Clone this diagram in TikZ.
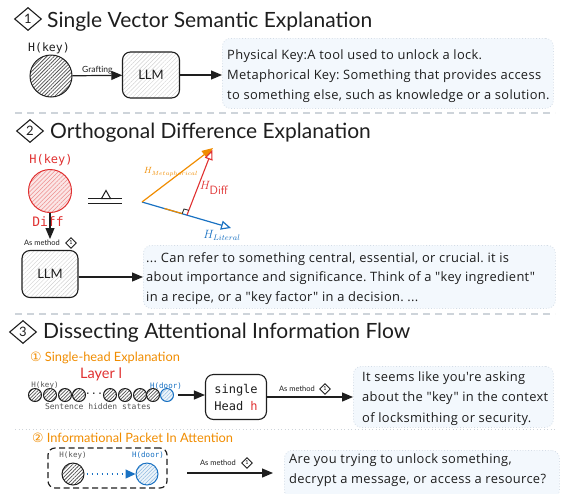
\documentclass[tikz,border=0pt]{standalone}
\usepackage{fontspec}
\setmainfont{Lato}[Ligatures=TeXOff]
\setmonofont{DejaVu Sans Mono}
\newfontfamily\symf{DejaVu Sans}
\newfontfamily\bodyf{Open Sans}[Ligatures=TeXOff, LetterSpace=2.5]
\usetikzlibrary{arrows.meta,patterns.meta,shapes.geometric,calc}
\frenchspacing
\definecolor{ink}{HTML}{1E1E1E}
\definecolor{xorange}{HTML}{F08C00}
\definecolor{xred}{HTML}{E03131}
\definecolor{xblue}{HTML}{1971C2}
\definecolor{boxfill}{HTML}{F3F8FD}
\definecolor{boxline}{HTML}{D3DCE6}
\definecolor{sepc}{HTML}{CED4DA}
\definecolor{graytxt}{HTML}{555555}
\newcommand\ftitle{\fontsize{21}{22}\selectfont}
\newcommand\fbody{\bodyf\fontsize{12.9}{20}\selectfont}
\newcommand\fsmall{\fontsize{8.5}{9}\selectfont}
\newcommand\ftiny{\fontsize{7.5}{8}\selectfont}
\newcommand\fmono{\ttfamily\fontsize{11.5}{12}\selectfont}
\newcommand\fmonotiny{\ttfamily\fontsize{7.5}{8}\selectfont}
\newcommand\btext[1]{\parbox[t]{400pt}{\raggedright #1}}
\tikzset{
  arr/.style={draw=ink, line width=1.2pt, -{Triangle[length=11pt,width=9pt]}},
  tdiamond/.style={diamond, draw=ink, line width=1.1pt, minimum width=27pt, minimum height=23pt, inner sep=0pt, font=\fontsize{13}{13}\selectfont, text=ink},
  mdiamond/.style={diamond, draw=ink, line width=0.9pt, minimum width=11pt, minimum height=11pt, inner sep=0pt, font=\fontsize{5.5}{5.5}\selectfont},
  ttl/.style={anchor=base west, font=\ftitle, text=ink, inner sep=0pt},
  subttl/.style={anchor=west, font=\fontsize{12.8}{13}\selectfont, text=xorange, inner sep=0pt},
  tbox/.style={anchor=north west, fill=boxfill, draw=boxline, dotted, line width=0.8pt, rounded corners=8pt, inner sep=0pt},
  btxt/.style={anchor=base west, inner sep=0pt, text=ink},
  darkball/.style={circle, draw=ink, line width=1pt, preaction={fill=white}, pattern={Lines[angle=45,distance=2.6pt,line width=0.75pt]}, pattern color=ink!75, inner sep=0pt},
  redball/.style={circle, draw=xred, line width=1pt, preaction={fill=xred!12}, pattern={Lines[angle=45,distance=3pt,line width=0.5pt]}, pattern color=xred!55, inner sep=0pt},
  blueball/.style={circle, draw=xblue, line width=1pt, preaction={fill=xblue!8}, pattern={Lines[angle=45,distance=2.6pt,line width=0.5pt]}, pattern color=xblue!50, inner sep=0pt},
  llmbox/.style={rectangle, rounded corners=8pt, draw=ink, line width=1.1pt, preaction={fill=white}, pattern={Lines[angle=45,distance=3pt,line width=0.4pt]}, pattern color=black!18, minimum width=57pt, minimum height=46pt, font=\fontsize{13}{13}\selectfont, text=ink},
  headbox/.style={rectangle, rounded corners=8pt, draw=ink, line width=1.1pt, fill=white, minimum width=61pt, minimum height=45pt, align=center, font=\ttfamily\fontsize{12}{17}\selectfont, text=ink},
  packet/.style={rectangle, rounded corners=7pt, draw=ink, line width=1.2pt, dash pattern=on 6pt off 3.5pt, minimum width=119pt, minimum height=40pt},
  sepline/.style={draw=sepc, line width=1.2pt, dash pattern=on 7pt off 5pt},
  sepdot/.style={draw=sepc, line width=1pt, dash pattern=on 1pt off 2.5pt},
  lab/.style={font=\fsmall, text=ink, inner sep=1pt},
  mlab/.style={font=\ftiny, text=ink, inner sep=0pt},
}
\begin{document}
\begin{tikzpicture}[x=1pt,y=-1pt]
\useasboundingbox (0,0) rectangle (561,493);
% ---------- section 1
\node[tdiamond] (d1) at (28,19) {1};
\node[ttl] (t1) at (47,27) {Single Vector Semantic Explanation};
\node[font=\fmono, text=ink] (hk1) at (49,48) {H(key)};
\node[darkball, minimum size=42pt] (c1) at (51,76) {};
\node[llmbox] (llm1) at (151,75) {LLM};
\draw[arr] (c1) -- node[lab, above] (gr) {Grafting} (llm1);
\node[tbox, minimum width=331pt, minimum height=70pt] (b1) at (222,38) {};
\node[btxt, font=\fbody] (x1) at (227,59)
  {\btext{Physical Key:A tool used to unlock a lock.\\Metaphorical Key: Something that provides access\\to something else, such as knowledge or a solution.}};
\draw[arr] (llm1.east) -- (llm1.east -| b1.west);
\draw[sepline] (15,113) -- (555,113);
% ---------- section 2
\node[tdiamond] (d2) at (30,131) {2};
\node[ttl] (t2) at (50,138) {Orthogonal Difference Explanation};
\node[font=\ttfamily\fontsize{12}{12}\selectfont, text=xred] (hk2) at (51,160) {H(key)};
\node[redball, minimum size=43pt] (c2) at (50,191) {};
\node[font=\ttfamily\fontsize{13}{13}\selectfont, text=xred] (diff) at (48,222) {Diff};
\coordinate (a2) at (50,239);
\draw[arr] (c2) -- (a2);
\node[mlab] (am2) at (42,243) {As method};
\node[mdiamond] (md2) at (71,243) {1};
\node[llmbox, minimum width=56pt, minimum height=47pt] (llm2) at (50,274) {LLM};
\node[tbox, minimum width=412pt, minimum height=63pt] (b2) at (143,245) {};
\node[btxt, font=\bodyf\fontsize{12.9}{19.5}\selectfont] (x2) at (146,262)
  {\btext{... Can refer to something central, essential, or crucial. it is\\about importance and significance. Think of a "key ingredient"\\in a recipe, or a "key factor" in a decision. ...}};
\coordinate (e2) at ($(llm2.east)+(0,3)$);
\draw[arr] (e2) -- (e2 -| b2.west);
% triangleq symbol
\draw[ink, line width=1pt] (88,198.5) -- (122,198.5) (88,203) -- (122,203);
\draw[ink, line width=1pt] (101.5,198.5) -- (106,190.5) -- (110.5,198.5) -- cycle;
% vectors
\coordinate (O) at (142,202);
\coordinate (M) at (213,148);
\coordinate (L) at (231,228);
\coordinate (F) at (187,215);
\draw[xblue, line width=1.2pt, -{Triangle[open, length=10pt, width=9pt, fill=white]}] (O) -- (L);
\draw[xorange, line width=1.2pt] ($(O)!0.5!(F)$) -- ($(O)!0.9!(F)$);
\draw[xorange, line width=1.2pt, -{Triangle[length=11pt, width=9pt]}] (O) -- (M);
\draw[xred, line width=1.1pt, -{Triangle[open, length=10pt, width=8pt, fill=white]}] (F) -- ($(M)!2pt!(F)$);
\draw[ink, line width=0.8pt] ($(F)!5pt!(O)$) -- ($($(F)!5pt!(O)$)+($(F)!5pt!(M)$)-(F)$) -- ($(F)!5pt!(M)$);
\node[text=xorange, font=\fontsize{9}{9}\selectfont] (lm) at (171,172) {$H_{Metaphorical}$};
\node[text=xred, font=\fontsize{12}{12}\selectfont] (ld) at (214,188) {$H_{\textsf{Diff}}$};
\node[text=xblue, font=\fontsize{12}{12}\selectfont] (ll) at (222,235) {$H_{Literal}$};
\draw[sepline] (15,314) -- (555,314);
% ---------- section 3
\node[tdiamond] (d3) at (23,332) {3};
\node[ttl] (t3) at (43,338) {Dissecting Attentional Information Flow};
\node[subttl] (s1) at (30,358) {{\symf ①}\ Single-head Explanation};
\node[text=xred, font=\fontsize{14.5}{14.5}\selectfont] (ly) at (101,374) {Layer l};
\foreach \i/\xx in {1/35,2/50,3/65,4/79,5/110,6/125,7/140,8/153}{
  \node[darkball, minimum size=13pt, pattern={Lines[angle=45,distance=2.4pt,line width=0.7pt]}] (h\i) at (\xx,395) {};
}
\node[blueball, minimum size=13pt] (hb) at (167,395) {};
\node[font=\ttfamily\fontsize{10}{10}\selectfont, text=ink] (dots) at (94,394) {...};
\node[font=\fmonotiny, text=graytxt] (hk3) at (45,385) {H(key)};
\node[font=\fmonotiny, text=xblue] (hd3) at (166,386) {H(door)};
\node[font=\ttfamily\fontsize{8}{8}\selectfont, text=graytxt] (shs) at (98,407) {Sentence hidden states};
\node[headbox] (head) at (236,397) {single\\Head \textcolor{xred}{h}};
\draw[arr, shorten <=4pt] (hb.east) -- (hb.east -| head.west);
\node[tbox, minimum width=200pt, minimum height=61pt] (b3) at (353,366) {};
\node[btxt, font=\bodyf\fontsize{12.9}{20.5}\selectfont] (x3) at (362,381)
  {\btext{It seems like you're asking\\about the "key" in the context\\of locksmithing or security.}};
\draw[arr] (head.east) -- (head.east -| b3.west);
\node[mlab] (am3) at (297,389) {As method};
\node[mdiamond] (md3) at (325,389) {1};
\draw[sepdot] (15,429) -- (555,429);
\node[subttl] (s2) at (32,438) {{\symf ②}\ Informational Packet In Attention};
\node[packet] (pk) at (107.5,468) {};
\node[font=\fmonotiny, text=graytxt] (hk4) at (73,455) {H(key)};
\node[font=\fmonotiny, text=xblue] (hd4) at (148,455) {H(door)};
\node[darkball, minimum size=22pt] (ck) at (73,474) {};
\node[blueball, minimum size=22pt] (cd) at (147,474) {};
\draw[xblue, line width=1.2pt, dash pattern=on 1.5pt off 3.5pt, -{Triangle[length=10pt,width=9pt]}, shorten <=2pt] (ck) -- (cd);
\coordinate (s4) at (187,473);
\node[tbox, minimum width=275pt, minimum height=48pt] (b4) at (284,450) {};
\node[btxt, font=\fbody] (x4) at (289,463)
  {\btext{Are you trying to unlock something,\\decrypt a message, or access a resource?}};
\draw[arr, shorten >=11pt] (s4) -- (s4 -| b4.west);
\node[mlab] (am4) at (218,463) {As method};
\node[mdiamond] (md4) at (247,463) {1};
\end{tikzpicture}
\end{document}
